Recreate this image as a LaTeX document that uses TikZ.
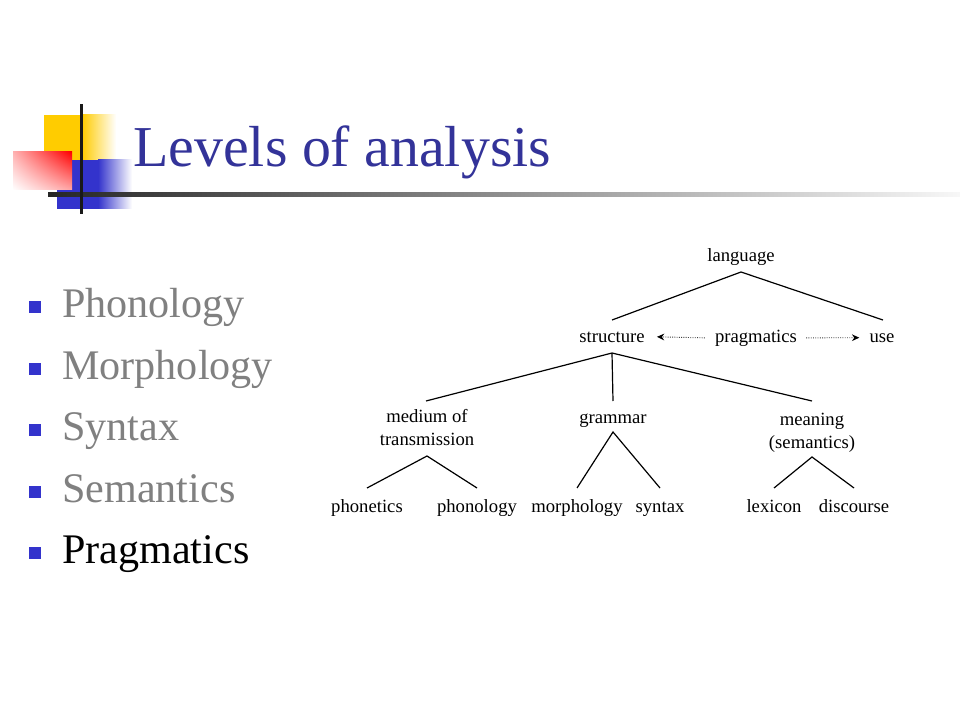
\documentclass[tikz,border=0pt]{standalone}
\usepackage{fontspec}
\setmainfont{Liberation Serif}
\usetikzlibrary{arrows.meta,calc,shadings}
\definecolor{titleblue}{HTML}{333399}
\definecolor{bulletblue}{HTML}{3333CC}
\definecolor{padyellow}{HTML}{FFCC00}
\definecolor{bodygray}{HTML}{808080}
\begin{document}
\begin{tikzpicture}[x=0.75pt,y=-0.75pt,
  treetext/.style={font=\fontsize{14}{17.25}\selectfont, inner sep=0pt, anchor=base},
  bullettext/.style={font=\fontsize{31.6}{38}\selectfont, inner sep=0pt, anchor=base west},
  bulletsq/.style={fill=bulletblue, inner sep=0pt, minimum size=9pt},
  branch/.style={line width=0.9pt, black},
  dotarrow/.style={densely dotted, line width=0.7pt, black!75, -{Stealth[length=5.5pt,width=5pt,black]}}]
\useasboundingbox (0,0) rectangle (960,720);
\fill[white] (0,0) rectangle (960,720);
% ---- title decoration ----
\fill[padyellow] (44,115) rectangle (82,160);
\shade[left color=padyellow, right color=white] (82,115) rectangle (116,160);
\fill[bulletblue] (57,160) rectangle (98,209);
\shade[left color=bulletblue, right color=white] (98,160) rectangle (132,209);
\shade[upper left=red!30, upper right=red, lower left=white, lower right=red!35] (13,152) rectangle (72,190);
\shade[left color=black!85, right color=black!3] (48,192.5) rectangle (960,196.5);
\fill[black!90] (79.5,104) rectangle (82.5,214);
% ---- title ----
\node[anchor=base west, inner sep=0pt, font=\fontsize{43.4}{52}\selectfont, text=titleblue] (title) at (133,167) {Levels of analysis};
% ---- bullets ----
\foreach \n/\b/\t/\c in {1/317/Phonology/bodygray, 2/379/Morphology/bodygray, 3/440/Syntax/bodygray, 4/502/Semantics/bodygray, 5/563/Pragmatics/black}{
  \node[bulletsq] (sq\n) at (35,\b-10) {};
  \node[bullettext, text=\c] (item\n) at (62,\b) {\t};
}
% ---- tree ----
\node[treetext] (lang) at (741,262) {language};
\node[treetext] (struct) at (612,342) {structure};
\node[treetext] (prag) at (756,342) {pragmatics};
\node[treetext] (use) at (882,342) {use};
\node[treetext] (medium) at (427,422) {\begin{tabular}[t]{@{}c@{}}medium of\\transmission\end{tabular}};
\node[treetext] (gram) at (613,423) {grammar};
\node[treetext] (mean) at (812,425) {\begin{tabular}[t]{@{}c@{}}meaning\\(semantics)\end{tabular}};
\node[treetext] (phonet) at (367,512) {phonetics};
\node[treetext] (phonol) at (477,512) {phonology};
\node[treetext] (morph) at (577,512) {morphology};
\node[treetext] (syn) at (660,512) {syntax};
\node[treetext] (lex) at (774,512) {lexicon};
\node[treetext] (disc) at (854,512) {discourse};
% connectors
\draw[branch] ($(struct.base)+(0,-22)$) -- ($(lang.base)+(0,10)$) -- ($(use.base)+(1,-22)$);
\draw[branch] ($(struct.base)+(0,11)$) -- ($(medium.base)+(-1,-21)$);
\draw[branch] ($(struct.base)+(0,11)$) -- ($(gram.base)+(0,-22)$);
\draw[branch] ($(struct.base)+(0,11)$) -- ($(mean.base)+(0,-24)$);
\draw[branch] ($(phonet.base)+(0,-24)$) -- ($(medium.base)+(0,34)$) -- ($(phonol.base)+(0,-24)$);
\draw[branch] ($(morph.base)+(0,-24)$) -- ($(gram.base)+(0,9)$) -- ($(syn.base)+(0,-24)$);
\draw[branch] ($(lex.base)+(0,-24)$) -- ($(mean.base)+(0,32)$) -- ($(disc.base)+(0,-24)$);
\draw[dotarrow] ($(prag.west)+(-10,0)$) -- ($(struct.east)+(12,0)$);
\draw[dotarrow] ($(prag.east)+(9,0)$) -- ($(use.west)+(-10,0)$);
\end{tikzpicture}
\end{document}
